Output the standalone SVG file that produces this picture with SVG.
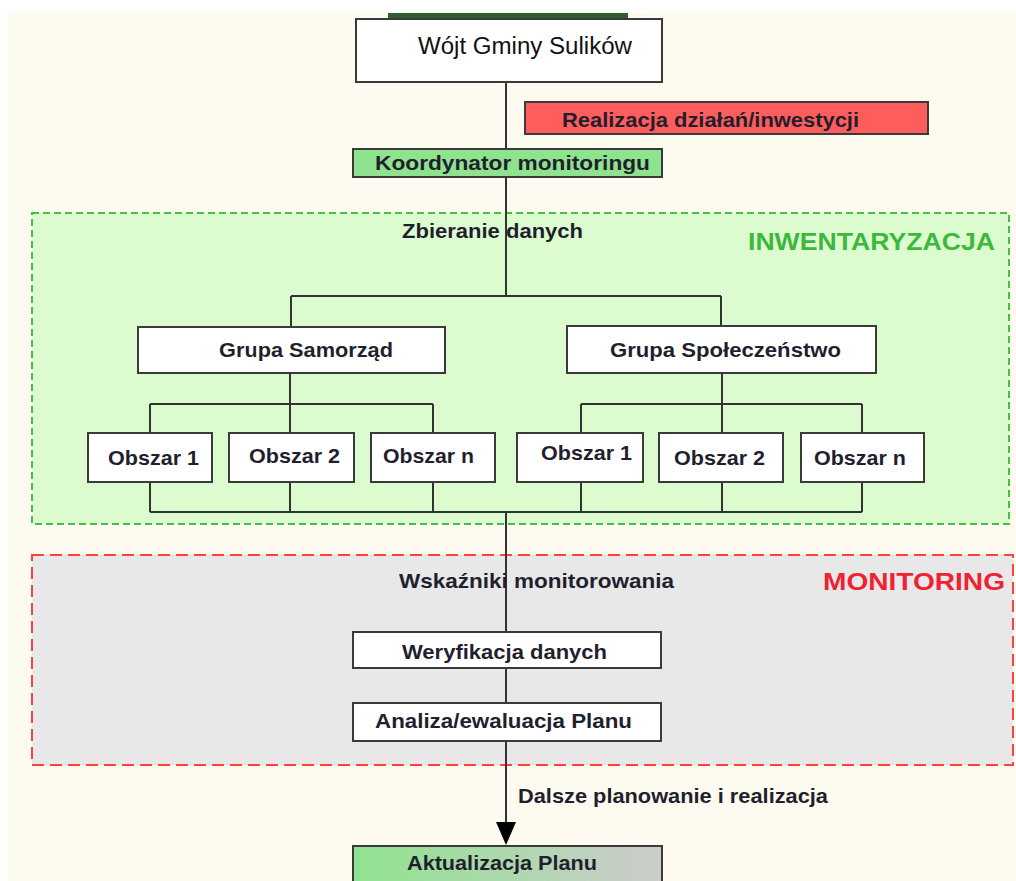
<svg xmlns="http://www.w3.org/2000/svg" width="1016" height="881" viewBox="0 0 1016 881">
<defs>
<style>
.bx{stroke:#3a3a3a;stroke-width:2}
.wt{fill:#ffffff}
.t{font-family:"Liberation Sans",Arial,sans-serif;font-weight:bold;fill:#1f1f2e;font-size:21px}
.ln{stroke:#333333;stroke-width:2;fill:none}
</style>
<linearGradient id="gr" x1="0" y1="0" x2="1" y2="0">
<stop offset="0" stop-color="#8fe38f"/>
<stop offset="1" stop-color="#cccccc"/>
</linearGradient>
</defs>
<rect x="0" y="0" width="1016" height="881" fill="#ffffff"/>
<rect x="8" y="13" width="1008" height="868" fill="#fdfbef"/>
<rect x="388" y="13" width="240" height="6" fill="#2f5f2f"/>

<g id="inwentaryzacja">
<rect x="32" y="213" width="977" height="311" fill="#dcfcd0" stroke="#44c044" stroke-width="2" stroke-dasharray="7,4"/>
<text x="748" y="250" font-family="Liberation Sans,Arial,sans-serif" font-weight="bold" font-size="24" fill="#3db83d" textLength="247" lengthAdjust="spacingAndGlyphs">INWENTARYZACJA</text>
</g>
<g id="monitoring">
<rect x="32" y="555" width="981" height="210" fill="#e8e8e8" stroke="#ff4040" stroke-width="2" stroke-dasharray="12,6"/>
<text x="823" y="590" font-family="Liberation Sans,Arial,sans-serif" font-weight="bold" font-size="24" fill="#ee2233" textLength="182" lengthAdjust="spacingAndGlyphs">MONITORING</text>
</g>

<g id="connectors">
<path class="ln" d="M506,82 V149 M506,177 V296 M291,296 H721 M291,296 V327 M721,296 V326"/>
<path class="ln" d="M290,373 V404 M150,404 H433 M150,404 V433 M290,404 V433 M433,404 V433"/>
<path class="ln" d="M722,373 V404 M581,404 H862 M581,404 V433 M722,404 V433 M862,404 V433"/>
<path class="ln" d="M150,482 V512 M290,482 V512 M433,482 V512 M581,482 V512 M722,482 V512 M862,482 V512 M150,512 H862"/>
<path class="ln" d="M506,512 V632 M506,668 V703"/>
<path class="ln" d="M506,741 V824"/>
<polygon points="496,822 516,822 506,845" fill="#000"/>
<text class="t" x="402" y="238" textLength="181" lengthAdjust="spacingAndGlyphs">Zbieranie danych</text>
<text class="t" x="399" y="588" textLength="275" lengthAdjust="spacingAndGlyphs">Wskaźniki monitorowania</text>
<text class="t" x="518" y="803" textLength="310" lengthAdjust="spacingAndGlyphs">Dalsze planowanie i realizacja</text>
</g>

<g id="wojt">
<rect class="bx wt" x="356" y="19" width="306" height="63"/>
<text x="418" y="54" font-family="Liberation Sans,Arial,sans-serif" font-size="23" fill="#111" textLength="214" lengthAdjust="spacingAndGlyphs">Wójt Gminy Sulików</text>
</g>
<g id="realizacja">
<rect class="bx" x="525" y="102" width="403" height="32" fill="#ff5c5c"/>
<text class="t" x="562" y="127" textLength="297" lengthAdjust="spacingAndGlyphs">Realizacja działań/inwestycji</text>
</g>
<g id="koordynator">
<rect class="bx" x="353" y="149" width="309" height="28" fill="#8fe38f"/>
<text class="t" x="375" y="170" textLength="275" lengthAdjust="spacingAndGlyphs">Koordynator monitoringu</text>
</g>
<g id="grupa-samorzad">
<rect class="bx wt" x="138" y="327" width="307" height="46"/>
<text class="t" x="219" y="357" textLength="174" lengthAdjust="spacingAndGlyphs">Grupa Samorząd</text>
</g>
<g id="grupa-spoleczenstwo">
<rect class="bx wt" x="567" y="326" width="309" height="47"/>
<text class="t" x="610" y="357" textLength="231" lengthAdjust="spacingAndGlyphs">Grupa Społeczeństwo</text>
</g>
<g id="s-obszar1">
<rect class="bx wt" x="88" y="433" width="124" height="49"/>
<text class="t" x="108" y="465" textLength="91" lengthAdjust="spacingAndGlyphs">Obszar 1</text>
</g>
<g id="s-obszar2">
<rect class="bx wt" x="229" y="433" width="125" height="49"/>
<text class="t" x="249" y="463" textLength="91" lengthAdjust="spacingAndGlyphs">Obszar 2</text>
</g>
<g id="s-obszarn">
<rect class="bx wt" x="371" y="433" width="124" height="49"/>
<text class="t" x="383" y="463" textLength="91" lengthAdjust="spacingAndGlyphs">Obszar n</text>
</g>
<g id="p-obszar1">
<rect class="bx wt" x="517" y="433" width="126" height="49"/>
<text class="t" x="541" y="460" textLength="91" lengthAdjust="spacingAndGlyphs">Obszar 1</text>
</g>
<g id="p-obszar2">
<rect class="bx wt" x="659" y="433" width="124" height="49"/>
<text class="t" x="674" y="465" textLength="91" lengthAdjust="spacingAndGlyphs">Obszar 2</text>
</g>
<g id="p-obszarn">
<rect class="bx wt" x="801" y="433" width="123" height="49"/>
<text class="t" x="814" y="465" textLength="92" lengthAdjust="spacingAndGlyphs">Obszar n</text>
</g>
<g id="weryfikacja">
<rect class="bx wt" x="353" y="632" width="308" height="36"/>
<text class="t" x="402" y="659" textLength="205" lengthAdjust="spacingAndGlyphs">Weryfikacja danych</text>
</g>
<g id="analiza">
<rect class="bx wt" x="353" y="703" width="308" height="38"/>
<text class="t" x="375" y="728" textLength="257" lengthAdjust="spacingAndGlyphs">Analiza/ewaluacja Planu</text>
</g>
<g id="aktualizacja">
<rect class="bx" x="353" y="846" width="309" height="45" fill="url(#gr)"/>
<text class="t" x="407" y="870" textLength="190" lengthAdjust="spacingAndGlyphs">Aktualizacja Planu</text>
</g>
</svg>
